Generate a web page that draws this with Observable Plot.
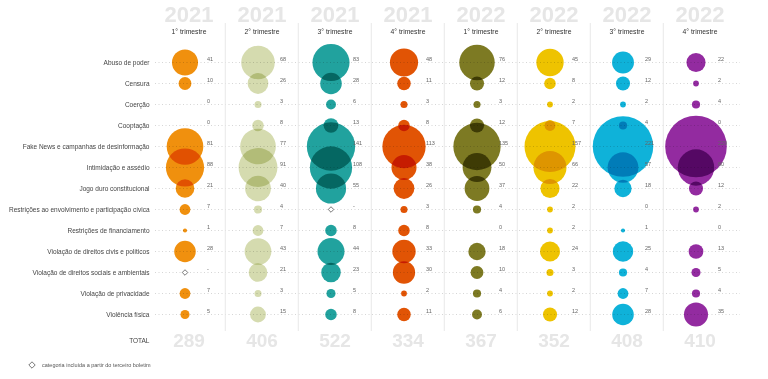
<!DOCTYPE html>
<html><head><meta charset="utf-8">
<script src="https://cdn.jsdelivr.net/npm/d3@7"></script>
<script src="https://cdn.jsdelivr.net/npm/@observablehq/plot@0.6"></script>
<style>
body{margin:0;background:#fff;font-family:"Liberation Sans",Arial,Helvetica,sans-serif;}
#chart svg{display:block;}
#legend{display:flex;align-items:center;height:12px;margin-top:7px;padding-left:27px;font-size:5.5px;color:#555;}
</style></head><body>
<div id="chart"></div>
<div id="legend"><svg width="10" height="10"><path d="M5,1.8L8.2,5L5,8.2L1.8,5Z" fill="#fff" stroke="#555" stroke-width="0.8"/></svg><span style="margin-left:5px">categoria incluída a partir do terceiro boletim</span></div>
<script>
const categories = [
  "Abuso de poder",
  "Censura",
  "Coerção",
  "Cooptação",
  "Fake News e campanhas de desinformação",
  "Intimidação e assédio",
  "Jogo duro constitucional",
  "Restrições ao envolvimento e participação cívica",
  "Restrições de financiamento",
  "Violação de direitos civis e políticos",
  "Violação de direitos sociais e ambientais",
  "Violação de privacidade",
  "Violência física"
];
const years = ["2021", "2021", "2021", "2021", "2022", "2022", "2022", "2022"];
const quarters = ["1° trimestre", "2° trimestre", "3° trimestre", "4° trimestre", "1° trimestre", "2° trimestre", "3° trimestre", "4° trimestre"];
const totals = [289, 406, 522, 334, 367, 352, 408, 410];
const colors = ["#f0900e", "#d5dbaf", "#21a29e", "#e15405", "#7d7a23", "#eec300", "#0fb2d9", "#932ba0"];

const v2021q1 = [41, 10, 0, 0, 81, 88, 21, 7, 1, 28, null, 7, 5];
const v2021q2 = [68, 26, 3, 8, 77, 91, 40, 4, 7, 43, 21, 3, 15];
const v2021q3 = [83, 28, 6, 13, 141, 108, 55, null, 8, 44, 23, 5, 8];
const v2021q4 = [48, 11, 3, 8, 113, 38, 26, 3, 8, 33, 30, 2, 11];
const v2022q1 = [76, 12, 3, 12, 135, 50, 37, 4, 0, 18, 10, 4, 6];
const v2022q2 = [45, 8, 2, 7, 157, 66, 22, 2, 2, 24, 3, 2, 12];
const v2022q3 = [29, 12, 2, 4, 221, 57, 18, 0, 1, 25, 4, 7, 28];
const v2022q4 = [22, 2, 4, 0, 229, 80, 12, 2, 0, 13, 5, 4, 35];

const series = [v2021q1, v2021q2, v2021q3, v2021q4, v2022q1, v2022q2, v2022q3, v2022q4];
const keys = years.map((y, j) => y + "|" + quarters[j]);
const rows = [];
series.forEach((vals, j) => vals.forEach((v, i) => rows.push({col: keys[j], cat: categories[i], v, color: colors[j]})));
const cols = keys.map((k, j) => ({col: k, year: years[j], quarter: quarters[j], total: totals[j]}));

const font = '"Liberation Sans", Arial, Helvetica, sans-serif';
const chart = Plot.plot({
  width: 768,
  height: 352,
  marginTop: 23,
  marginBottom: 21,
  marginLeft: 155,
  marginRight: 28,
  style: {fontFamily: font, fontSize: "6.5px", color: "#444", background: "#fff"},
  x: {type: "band", domain: keys, range: [149.5, 737.5], padding: 0, axis: null},
  y: {type: "point", domain: categories, range: [61.3, 315.7], padding: 0, tickSize: 0, tickPadding: 6, label: null},
  r: {type: "sqrt", domain: [0, 229], range: [0, 30.8]},
  color: {type: "identity"},
  marks: [
    Plot.ruleY(categories, {y: d => d, stroke: "#c4c4c4", strokeDasharray: "1,2.5", strokeWidth: 0.7}),
    Plot.ruleX(keys.slice(1), {x: d => d, dx: -36.75, stroke: "#e8e8e8", strokeWidth: 1}),
    Plot.dot(rows.filter(d => d.v != null && d.v > 0), {x: "col", y: "cat", r: "v", fill: "color", dx: -4, mixBlendMode: "multiply"}),
    Plot.dot(rows.filter(d => d.v == null), {x: "col", y: "cat", symbol: "diamond2", r: 2.5, fill: "white", stroke: "#555", strokeWidth: 0.8, dx: -4}),
    Plot.text(rows, {x: "col", y: "cat", text: d => d.v == null ? "-" : String(d.v), dx: 18, dy: -3, textAnchor: "start", fontSize: 5.5, fill: "#666"}),
    Plot.text(cols, {x: "col", text: "year", frameAnchor: "top", lineAnchor: "middle", dy: -9, fontSize: 22, fontWeight: "bold", fill: "#e6e6e6"}),
    Plot.text(cols, {x: "col", text: "quarter", frameAnchor: "top", lineAnchor: "middle", dy: 8.6, fontSize: 6.8, fill: "#333"}),
    Plot.text(cols, {x: "col", text: d => String(d.total), frameAnchor: "bottom", lineAnchor: "middle", dy: 9, fontSize: 19, fontWeight: "bold", fill: "#e6e6e6"}),
    Plot.text(["TOTAL"], {frameAnchor: "bottom-left", lineAnchor: "middle", text: d => d, dx: -6, dy: 9, textAnchor: "end", fontSize: 6.5, fill: "#444"})
  ]
});
document.getElementById("chart").appendChild(chart);
</script>
</body></html>
